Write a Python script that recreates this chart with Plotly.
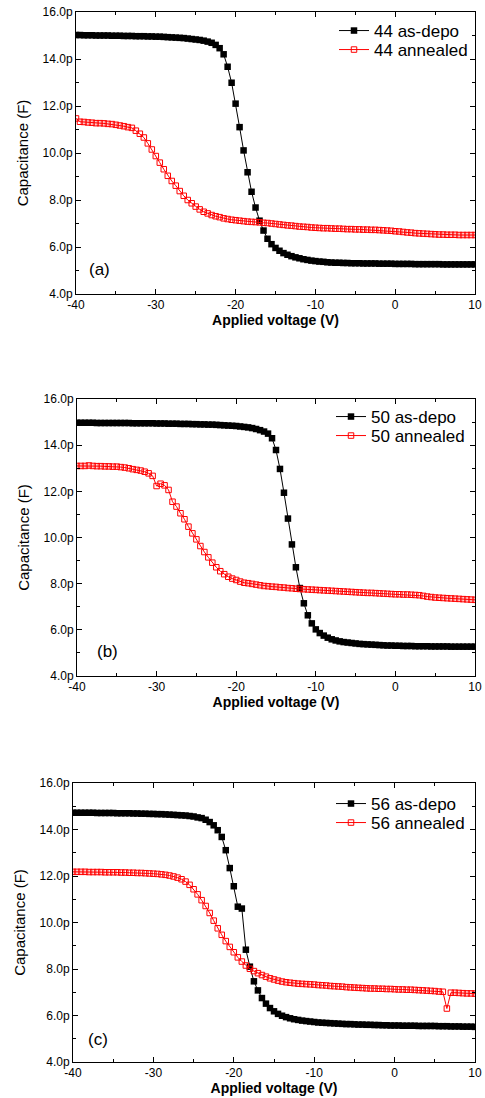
import plotly.graph_objects as go

# Voltage sweep: -40 V to +10 V in 0.5 V steps
voltage = [v / 2 for v in range(-80, 21)]

# Capacitance in pF, sample 44
cap_44_asdepo = [
    15.02, 15.02, 15.01, 15.01, 15.01, 15.00, 15.00, 15.00, 15.00, 14.99, 14.99,
    14.99, 14.98, 14.98, 14.98, 14.97, 14.97, 14.97, 14.96, 14.96, 14.95,
    14.95, 14.94, 14.93, 14.92, 14.91, 14.90, 14.89, 14.87, 14.85, 14.83,
    14.81, 14.78, 14.74, 14.69, 14.60, 14.46, 14.20, 13.67, 12.99, 12.10,
    11.10, 10.11, 9.18, 8.35, 7.68, 7.12, 6.70, 6.35, 6.12, 5.96,
    5.84, 5.74, 5.67, 5.61, 5.56, 5.52, 5.48, 5.45, 5.42, 5.40,
    5.38, 5.37, 5.35, 5.34, 5.33, 5.33, 5.32, 5.32, 5.31, 5.31,
    5.31, 5.30, 5.30, 5.30, 5.30, 5.29, 5.29, 5.29, 5.29, 5.28,
    5.28, 5.28, 5.28, 5.28, 5.27, 5.27, 5.27, 5.27, 5.27, 5.27,
    5.27, 5.26, 5.26, 5.26, 5.26, 5.26, 5.26, 5.26, 5.26, 5.26,
]
cap_44_annealed = [
    11.47, 11.33, 11.32, 11.30, 11.29, 11.27, 11.27, 11.26, 11.24, 11.23, 11.20,
    11.17, 11.14, 11.10, 11.07, 10.95, 10.82, 10.66, 10.41, 10.15, 9.87,
    9.59, 9.31, 9.03, 8.81, 8.61, 8.38, 8.18, 8.00, 7.86, 7.72,
    7.60, 7.50, 7.43, 7.36, 7.31, 7.27, 7.22, 7.19, 7.16, 7.14,
    7.12, 7.10, 7.08, 7.07, 7.06, 7.05, 7.03, 7.02, 7.00, 6.98,
    6.96, 6.94, 6.92, 6.91, 6.89, 6.87, 6.86, 6.85, 6.83, 6.82,
    6.81, 6.80, 6.80, 6.79, 6.78, 6.78, 6.77, 6.76, 6.76, 6.75,
    6.75, 6.74, 6.74, 6.73, 6.73, 6.72, 6.71, 6.70, 6.69, 6.67,
    6.66, 6.64, 6.62, 6.61, 6.59, 6.58, 6.57, 6.56, 6.55, 6.54,
    6.53, 6.53, 6.52, 6.52, 6.52, 6.51, 6.51, 6.51, 6.51, 6.51,
]

# Capacitance in pF, sample 50
cap_50_asdepo = [
    14.97, 14.97, 14.97, 14.97, 14.97, 14.96, 14.96, 14.96, 14.96, 14.96, 14.96,
    14.96, 14.96, 14.96, 14.95, 14.95, 14.95, 14.95, 14.95, 14.95, 14.94,
    14.94, 14.94, 14.93, 14.93, 14.93, 14.92, 14.92, 14.92, 14.91, 14.91,
    14.90, 14.90, 14.89, 14.89, 14.88, 14.87, 14.86, 14.85, 14.84, 14.83,
    14.81, 14.79, 14.77, 14.74, 14.70, 14.65, 14.59, 14.50, 14.30, 13.79,
    12.97, 11.94, 10.82, 9.70, 8.71, 7.81, 7.15, 6.63, 6.28, 6.02,
    5.86, 5.75, 5.66, 5.59, 5.54, 5.50, 5.47, 5.45, 5.43, 5.41,
    5.39, 5.38, 5.37, 5.36, 5.35, 5.34, 5.33, 5.32, 5.32, 5.31,
    5.31, 5.30, 5.30, 5.30, 5.29, 5.29, 5.29, 5.29, 5.28, 5.28,
    5.28, 5.28, 5.28, 5.27, 5.27, 5.27, 5.27, 5.27, 5.27, 5.27,
]
cap_50_annealed = [
    13.10, 13.10, 13.10, 13.12, 13.10, 13.09, 13.09, 13.08, 13.08, 13.07, 13.07,
    13.05, 13.03, 13.00, 12.96, 12.93, 12.90, 12.85, 12.78, 12.67, 12.23,
    12.33, 12.26, 12.06, 11.55, 11.34, 11.05, 10.79, 10.47, 10.18, 9.92,
    9.63, 9.37, 9.14, 8.91, 8.71, 8.54, 8.41, 8.30, 8.22, 8.16,
    8.09, 8.04, 8.02, 7.99, 7.96, 7.93, 7.90, 7.89, 7.87, 7.86,
    7.84, 7.83, 7.81, 7.80, 7.78, 7.77, 7.76, 7.75, 7.74, 7.73,
    7.72, 7.71, 7.70, 7.69, 7.68, 7.67, 7.66, 7.65, 7.64, 7.63,
    7.62, 7.61, 7.60, 7.60, 7.59, 7.58, 7.57, 7.56, 7.55, 7.54,
    7.54, 7.53, 7.53, 7.52, 7.51, 7.50, 7.47, 7.44, 7.42, 7.40,
    7.39, 7.38, 7.37, 7.36, 7.35, 7.34, 7.33, 7.32, 7.31, 7.30,
]

# Capacitance in pF, sample 56
cap_56_asdepo = [
    14.72, 14.72, 14.72, 14.72, 14.72, 14.72, 14.71, 14.71, 14.71, 14.71, 14.71,
    14.70, 14.70, 14.70, 14.70, 14.69, 14.69, 14.68, 14.68, 14.67, 14.67,
    14.66, 14.66, 14.65, 14.64, 14.63, 14.62, 14.61, 14.60, 14.58, 14.56,
    14.52, 14.49, 14.42, 14.32, 14.18, 13.97, 13.68, 13.11, 12.34, 11.56,
    10.68, 10.60, 8.83, 8.10, 7.47, 7.08, 6.75, 6.51, 6.32, 6.18,
    6.07, 5.99, 5.93, 5.88, 5.84, 5.81, 5.78, 5.76, 5.74, 5.72,
    5.70, 5.69, 5.68, 5.67, 5.66, 5.65, 5.64, 5.63, 5.63, 5.62,
    5.61, 5.61, 5.60, 5.60, 5.59, 5.59, 5.58, 5.58, 5.57, 5.57,
    5.57, 5.56, 5.56, 5.56, 5.56, 5.55, 5.55, 5.55, 5.55, 5.55,
    5.54, 5.54, 5.54, 5.53, 5.53, 5.53, 5.52, 5.52, 5.52, 5.51,
]
cap_56_annealed = [
    12.18, 12.18, 12.18, 12.18, 12.17, 12.17, 12.17, 12.17, 12.16, 12.16, 12.16,
    12.16, 12.15, 12.15, 12.14, 12.14, 12.13, 12.13, 12.12, 12.11, 12.10,
    12.09, 12.07, 12.05, 12.02, 11.98, 11.93, 11.86, 11.76, 11.62, 11.43,
    11.21, 10.96, 10.71, 10.41, 10.08, 9.75, 9.47, 9.20, 8.95, 8.72,
    8.50, 8.32, 8.15, 8.01, 7.91, 7.82, 7.74, 7.67, 7.60, 7.55,
    7.50, 7.46, 7.43, 7.41, 7.39, 7.37, 7.36, 7.35, 7.34, 7.33,
    7.31, 7.30, 7.29, 7.27, 7.26, 7.25, 7.24, 7.22, 7.21, 7.20,
    7.19, 7.18, 7.17, 7.16, 7.16, 7.15, 7.15, 7.14, 7.14, 7.13,
    7.12, 7.12, 7.11, 7.11, 7.10, 7.09, 7.08, 7.07, 7.06, 7.05,
    7.03, 7.02, 6.30, 6.98, 6.98, 6.97, 6.96, 6.95, 6.95, 6.94,
]

samples = ["44", "50", "56"]
panel_tags = ["(a)", "(b)", "(c)"]
asdepo_series = [cap_44_asdepo, cap_50_asdepo, cap_56_asdepo]
annealed_series = [cap_44_annealed, cap_50_annealed, cap_56_annealed]

y_tickvals = [4, 6, 8, 10, 12, 14, 16]
y_ticktext = ["4.0p", "6.0p", "8.0p", "10.0p", "12.0p", "14.0p", "16.0p"]
x_tickvals = [-40, -30, -20, -10, 0, 10]
x_ticktext = ["-40", "-30", "-20", "-10", "0", "10"]

W, H = 485, 1098
FONT = "Liberation Sans, Arial, sans-serif"

# Plot-area boxes in pixels: (left, right, top, bottom)
boxes = [(76, 475, 12, 294), (77, 475, 399, 676), (73, 475, 783, 1062)]
# Panel tag anchor positions in data units
tag_pos = [(-37.1, 5.06), (-36.2, 5.08), (-36.9, 4.95)]
# Legend rows per panel: left edge and vertical centres, in pixels
legend_left = [334, 331, 331]
legend_rows = [(31, 50), (417, 436), (804, 823)]

fig = go.Figure()
layout = dict(
    width=W, height=H,
    margin=dict(l=0, r=0, t=0, b=0),
    paper_bgcolor="white", plot_bgcolor="white",
    font=dict(family=FONT, color="black", size=12),
    showlegend=True,
    annotations=[],
)


def legend_box(xpx, ypx):
    return dict(
        x=xpx / W, y=1 - ypx / H, xanchor="left", yanchor="middle",
        bgcolor="rgba(0,0,0,0)", borderwidth=0,
        font=dict(family=FONT, size=17, color="black"),
    )


for i, (s, tag) in enumerate(zip(samples, panel_tags)):
    n = "" if i == 0 else str(i + 1)
    xa, ya = "x" + n, "y" + n
    lg_a = "legend" if i == 0 else f"legend{2 * i + 1}"
    lg_b = f"legend{2 * i + 2}"
    left, right, top, bottom = boxes[i]

    fig.add_trace(go.Scatter(
        x=voltage, y=asdepo_series[i], xaxis=xa, yaxis=ya, legend=lg_a,
        name=f"{s} as-depo", mode="lines+markers", showlegend=True,
        line=dict(color="black", width=1),
        marker=dict(symbol="square", size=6.5, color="black", line=dict(width=0)),
    ))
    fig.add_trace(go.Scatter(
        x=voltage, y=annealed_series[i], xaxis=xa, yaxis=ya, legend=lg_b,
        name=f"{s} annealed", mode="lines+markers", showlegend=True,
        line=dict(color="#ff0000", width=1),
        marker=dict(symbol="square-open", size=5.5, color="#ff0000",
                    line=dict(width=1, color="#ff0000")),
    ))

    axis_common = dict(
        showline=True, linecolor="black", linewidth=1, mirror="ticks",
        ticks="inside", ticklen=5, tickwidth=1, tickcolor="black",
        showgrid=False, zeroline=False,
        tickfont=dict(family=FONT, size=12, color="black"),
    )
    layout["xaxis" + n] = dict(
        axis_common,
        domain=[left / W, right / W],
        anchor=ya, range=[-40, 10],
        tickmode="array", tickvals=x_tickvals, ticktext=x_ticktext,
        minor=dict(ticks="inside", ticklen=3, tickwidth=1, tickcolor="black",
                   tick0=-35, dtick=10),
        title=dict(text="<b>Applied voltage (V)</b>", standoff=0,
                   font=dict(family=FONT, size=14, color="black")),
        automargin=False,
    )
    layout["yaxis" + n] = dict(
        axis_common,
        domain=[1 - bottom / H, 1 - top / H],
        anchor=xa, range=[4, 16],
        tickmode="array", tickvals=y_tickvals, ticktext=y_ticktext,
        minor=dict(ticks="inside", ticklen=3, tickwidth=1, tickcolor="black",
                   tick0=5, dtick=2),
        title=dict(text="Capacitance (F)", standoff=10,
                   font=dict(family=FONT, size=15, color="black")),
        automargin=False,
    )
    layout[lg_a] = legend_box(legend_left[i], legend_rows[i][0])
    layout[lg_b] = legend_box(legend_left[i], legend_rows[i][1])
    layout["annotations"].append(dict(
        text=tag, x=tag_pos[i][0], y=tag_pos[i][1], xref=xa, yref=ya,
        showarrow=False, font=dict(family=FONT, size=17, color="black"),
    ))

fig.update_layout(**layout)
fig.write_html("out.html")
